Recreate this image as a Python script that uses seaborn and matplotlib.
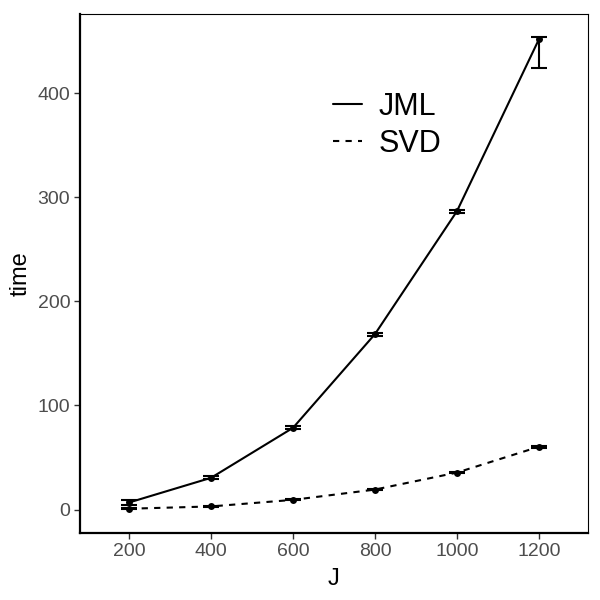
import matplotlib
matplotlib.use("Agg")
import matplotlib.pyplot as plt
import numpy as np
import pandas as pd
import seaborn as sns

J = [200, 400, 600, 800, 1000, 1200]
jml_mean = [6.8, 30.5, 78.5, 168.5, 286.5, 451.5]
jml_lo = [4.5, 29.0, 77.0, 167.0, 285.0, 424.5]
jml_hi = [9.0, 32.0, 80.0, 170.0, 288.0, 453.5]
svd_mean = [0.8, 3.0, 9.3, 19.2, 35.5, 60.3]
svd_lo = [0.2, 2.5, 8.7, 18.5, 34.8, 59.3]
svd_hi = [1.5, 3.5, 9.9, 19.9, 36.3, 61.3]
methods = ["JML", "SVD"]

df = pd.DataFrame({
    "J": J * 2,
    "time": jml_mean + svd_mean,
    "lo": jml_lo + svd_lo,
    "hi": jml_hi + svd_hi,
    "method": ["JML"] * len(J) + ["SVD"] * len(J),
})

sns.set_style("white")
plt.rcParams["font.family"] = ["Liberation Sans", "DejaVu Sans"]
plt.rcParams["text.color"] = "black"
plt.rcParams["axes.labelcolor"] = "black"

fig, ax = plt.subplots(figsize=(6, 6), dpi=100)
fig.subplots_adjust(left=0.1333, right=0.98, top=0.9767, bottom=0.1117)

sns.lineplot(data=df, x="J", y="time", style="method", style_order=methods,
             dashes={"JML": "", "SVD": (3, 3)}, color="black", linewidth=1.5,
             marker="o", markersize=5, markeredgewidth=0, ax=ax)

# error bars (min / max over replications)
for m in methods:
    d = df[df["method"] == m]
    yerr = np.vstack([d["time"] - d["lo"], d["hi"] - d["time"]])
    ax.errorbar(d["J"], d["time"], yerr=yerr, fmt="none", ecolor="black",
                elinewidth=1.5, capsize=5.8, capthick=1.5)

ax.set_xlim(80, 1320)
ax.set_ylim(-22.5, 476)
ax.set_xticks(J)
ax.set_yticks([0, 100, 200, 300, 400])
ax.tick_params(axis="both", which="both", bottom=True, left=True, length=4,
               width=1, color="#333333", labelsize=14, labelcolor="#4D4D4D", pad=3)
ax.set_xlabel("J", fontsize=17, labelpad=6, color="black")
ax.set_ylabel("time", fontsize=17, labelpad=4, color="black")

for s in ["left", "bottom"]:
    ax.spines[s].set_linewidth(1.6)
    ax.spines[s].set_color("black")
for s in ["top", "right"]:
    ax.spines[s].set_linewidth(0.8)
    ax.spines[s].set_color("black")

leg = ax.legend(title=None, frameon=False, fontsize=22, handlelength=0.95,
                handletextpad=0.55, labelspacing=0.22, borderpad=0,
                borderaxespad=0, loc="upper left",
                bbox_to_anchor=(333 / 600, 1 - 92 / 600),
                bbox_transform=fig.transFigure, labelcolor="black")
for h in leg.get_lines():
    h.set_marker("")
    h.set_linewidth(1.5)
    h.set_color("black")

fig.savefig("out.png", dpi=100)
